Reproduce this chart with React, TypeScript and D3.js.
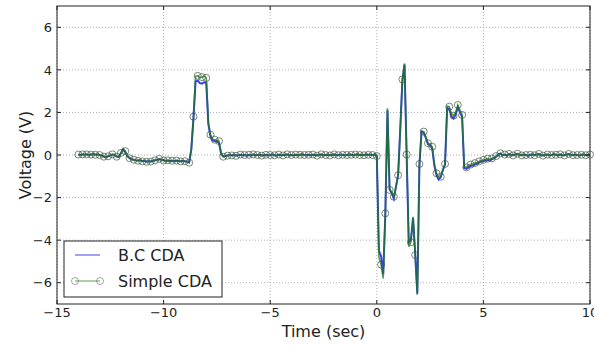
import { useRef, useEffect } from "react";
import * as d3 from "d3";

// sampled every 0.1 sec starting at -14 sec
const startTime = -14;
const timeStep = 0.1;

const simpleCda = [
    0.02, 0.0, 0.03, 0.01, 0.03, 0.0, 0.02, 0.04, 0.01, 0.03,
    0.0, -0.04, -0.08, -0.1, -0.06, -0.02, 0.03, 0.0, -0.08, -0.1,
    0.1, 0.3, 0.18, -0.05, -0.15, -0.2, -0.22, -0.25, -0.27, -0.24,
    -0.3, -0.28, -0.32, -0.29, -0.31, -0.27, -0.25, -0.22, -0.18, -0.22,
    -0.26, -0.28, -0.25, -0.3, -0.27, -0.29, -0.26, -0.28, -0.3, -0.27,
    -0.29, -0.31, -0.36, 0.3, 1.8, 3.7, 3.72, 3.65, 3.66, 3.7,
    3.62, 1.5, 0.95, 0.75, 0.72, 0.7, 0.65, 0.1, -0.08, -0.05,
    -0.03, 0.0, -0.02, 0.01, -0.04, -0.01, 0.02, -0.02, 0.0, -0.03,
    0.01, -0.01, 0.03, -0.02, 0.0, 0.02, -0.03, -0.01, 0.01, -0.02,
    0.0, 0.03, -0.01, -0.03, 0.02, 0.0, -0.02, 0.01, 0.03, -0.01,
    0.0, -0.02, 0.02, -0.01, 0.01, 0.04, 0.0, -0.02, 0.01, -0.01,
    0.02, 0.0, -0.03, 0.01, 0.03, -0.01, 0.0, 0.02, -0.02, 0.01,
    0.03, 0.0, -0.01, 0.02, 0.01, -0.02, 0.0, 0.03, 0.01, -0.01,
    0.02, 0.04, 0.0, 0.02, -0.01, 0.03, 0.01, 0.02, 0.0, 0.03,
    -0.05, -4.8, -5.15, -5.8, -2.74, 2.2, -1.64, -1.75, -1.96, -1.45,
    -0.95, 1.2, 3.55, 4.3, 0.02, -4.3, -4.1, -2.9, -4.7, -6.57,
    -0.42, 1.13, 1.1, 0.86, 0.55, 0.52, 0.39, -0.42, -0.86, -1.05,
    -1.02, -0.7, -0.42, 2.3, 2.27, 1.95, 1.85, 2.0, 2.35, 2.1,
    1.88, -0.55, -0.58, -0.5, -0.45, -0.42, -0.38, -0.35, -0.3, -0.26,
    -0.23, -0.2, -0.17, -0.2, -0.16, -0.12, -0.05, 0.05, 0.08, 0.0,
    0.02, -0.03, 0.05, 0.0, -0.02, 0.03, 0.06, 0.01, -0.02, 0.02,
    0.0, -0.04, 0.01, 0.03, -0.01, 0.02, 0.05, 0.0, -0.03, 0.01,
    0.02, -0.02, 0.0, 0.04, 0.01, -0.01, 0.03, 0.0, -0.02, 0.02,
    0.05, 0.01, -0.01, 0.02, 0.0, -0.03, 0.01, 0.03, -0.01, 0.0, 0.02,
];

const bcCda = [
    0.01, 0.01, 0.02, 0.02, 0.02, 0.01, 0.02, 0.03, 0.02, 0.02,
    0.0, -0.03, -0.07, -0.09, -0.06, -0.02, 0.02, 0.0, -0.07, -0.09,
    0.08, 0.26, 0.16, -0.05, -0.14, -0.2, -0.23, -0.25, -0.26, -0.25,
    -0.28, -0.28, -0.3, -0.29, -0.3, -0.27, -0.25, -0.22, -0.19, -0.22,
    -0.25, -0.27, -0.26, -0.28, -0.27, -0.28, -0.27, -0.28, -0.29, -0.28,
    -0.29, -0.31, -0.35, 0.25, 1.7, 3.45, 3.5, 3.38, 3.35, 3.42,
    3.4, 1.45, 0.85, 0.68, 0.66, 0.65, 0.55, 0.05, -0.07, -0.05,
    -0.02, -0.01, -0.01, 0.0, -0.02, -0.01, 0.01, -0.01, 0.0, -0.02,
    0.0, -0.01, 0.02, -0.01, 0.0, 0.01, -0.02, -0.01, 0.0, -0.01,
    0.0, 0.02, -0.01, -0.02, 0.01, 0.0, -0.01, 0.01, 0.02, -0.01,
    0.0, -0.01, 0.01, -0.01, 0.01, 0.02, 0.0, -0.01, 0.01, -0.01,
    0.01, 0.0, -0.02, 0.01, 0.02, -0.01, 0.0, 0.01, -0.01, 0.01,
    0.02, 0.0, -0.01, 0.01, 0.01, -0.01, 0.0, 0.02, 0.01, -0.01,
    0.01, 0.02, 0.0, 0.01, -0.01, 0.02, 0.01, 0.01, 0.0, 0.02,
    -0.03, -4.5, -4.75, -5.6, -2.8, 2.1, -1.6, -1.8, -2.05, -1.5,
    -0.95, 1.2, 3.5, 4.25, 0.0, -4.1, -4.0, -2.95, -4.6, -6.5,
    -0.45, 1.1, 1.05, 0.8, 0.5, 0.45, 0.3, -0.5, -0.95, -1.15,
    -1.05, -0.7, -0.45, 2.2, 2.15, 1.8, 1.72, 1.9, 2.25, 2.0,
    1.8, -0.6, -0.65, -0.58, -0.52, -0.5, -0.45, -0.4, -0.36, -0.3,
    -0.28, -0.26, -0.25, -0.25, -0.2, -0.15, -0.08, 0.02, 0.06, 0.0,
    0.01, -0.02, 0.04, 0.0, -0.01, 0.02, 0.05, 0.01, -0.01, 0.02,
    0.0, -0.03, 0.01, 0.02, -0.01, 0.02, 0.04, 0.0, -0.02, 0.01,
    0.02, -0.01, 0.0, 0.03, 0.01, -0.01, 0.02, 0.0, -0.01, 0.02,
    0.04, 0.01, -0.01, 0.02, 0.0, -0.02, 0.01, 0.02, -0.01, 0.0, 0.01,
];

const xTicks = [-15, -10, -5, 0, 5, 10];
const yTicks = [-6, -4, -2, 0, 2, 4, 6];
const legendLabels = ["B.C CDA", "Simple CDA"];

const blueColor = "#1f1fe6";
const greenColor = "#157a15";
const markerColor = "#3f5a3f";
const font = "DejaVu Sans, sans-serif";

type Point = { t: number; v: number };

export default function App() {
    const ref = useRef<SVGSVGElement>(null);

    useEffect(() => {
        if (!ref.current) return;
        const svg = d3.select(ref.current);
        svg.selectAll("*").remove();

        const width = 594;
        const height = 345;
        const margin = { top: 6, right: 4, bottom: 41, left: 57 };
        const innerWidth = width - margin.left - margin.right;
        const innerHeight = height - margin.top - margin.bottom;

        const xScale = d3.scaleLinear().domain([-15, 10]).range([0, innerWidth]);
        const yScale = d3.scaleLinear().domain([-7, 7]).range([innerHeight, 0]);

        const toPoints = (values: number[]): Point[] =>
            values.map((v, i) => ({ t: startTime + i * timeStep, v }));
        const simplePts = toPoints(simpleCda);
        const bcPts = toPoints(bcCda);

        const line = d3.line<Point>()
            .x(d => xScale(d.t))
            .y(d => yScale(d.v));

        svg.append("rect")
            .attr("width", width).attr("height", height).attr("fill", "#fff");

        const g = svg.append("g")
            .attr("transform", `translate(${margin.left}, ${margin.top})`);

        // dotted grid
        g.selectAll(".vgrid").data(xTicks).enter().append("line")
            .attr("x1", d => xScale(d)).attr("x2", d => xScale(d))
            .attr("y1", 0).attr("y2", innerHeight)
            .attr("stroke", "#9a9a9a").attr("stroke-width", 0.8)
            .attr("stroke-dasharray", "1,2");
        g.selectAll(".hgrid").data(yTicks).enter().append("line")
            .attr("x1", 0).attr("x2", innerWidth)
            .attr("y1", d => yScale(d)).attr("y2", d => yScale(d))
            .attr("stroke", "#9a9a9a").attr("stroke-width", 0.8)
            .attr("stroke-dasharray", "1,2");

        g.append("path")
            .datum(bcPts)
            .attr("d", line)
            .attr("fill", "none")
            .attr("stroke", blueColor)
            .attr("stroke-opacity", 0.85)
            .attr("stroke-width", 2);

        g.append("path")
            .datum(simplePts)
            .attr("d", line)
            .attr("fill", "none")
            .attr("stroke", greenColor)
            .attr("stroke-opacity", 0.75)
            .attr("stroke-width", 1.6);

        // markers on every other sample
        g.selectAll(".marker")
            .data(simplePts.filter((_, i) => i % 2 === 0))
            .enter().append("circle")
            .attr("cx", d => xScale(d.t))
            .attr("cy", d => yScale(d.v))
            .attr("r", 3.5)
            .attr("fill", "none")
            .attr("stroke", markerColor)
            .attr("stroke-opacity", 0.7)
            .attr("stroke-width", 1);

        // frame
        g.append("rect")
            .attr("width", innerWidth).attr("height", innerHeight)
            .attr("fill", "none").attr("stroke", "#222").attr("stroke-width", 1);

        // inward ticks on all sides
        xTicks.forEach(t => {
            const x = xScale(t);
            g.append("line").attr("x1", x).attr("x2", x).attr("y1", innerHeight).attr("y2", innerHeight - 4).attr("stroke", "#222");
            g.append("line").attr("x1", x).attr("x2", x).attr("y1", 0).attr("y2", 4).attr("stroke", "#222");
            g.append("text")
                .attr("x", x).attr("y", innerHeight + 13)
                .attr("text-anchor", "middle")
                .style("font-family", font).style("font-size", "13px").style("fill", "#222")
                .text(t < 0 ? "\u2212" + Math.abs(t) : String(t));
        });
        yTicks.forEach(t => {
            const y = yScale(t);
            g.append("line").attr("x1", 0).attr("x2", 4).attr("y1", y).attr("y2", y).attr("stroke", "#222");
            g.append("line").attr("x1", innerWidth).attr("x2", innerWidth - 4).attr("y1", y).attr("y2", y).attr("stroke", "#222");
            g.append("text")
                .attr("x", -5).attr("y", y).attr("dy", "0.36em")
                .attr("text-anchor", "end")
                .style("font-family", font).style("font-size", "13px").style("fill", "#222")
                .text(t < 0 ? "\u2212" + Math.abs(t) : String(t));
        });

        // axis titles
        svg.append("text")
            .attr("x", margin.left + innerWidth / 2).attr("y", 337)
            .attr("text-anchor", "middle")
            .style("font-family", font).style("font-size", "16px").style("fill", "#222")
            .text("Time (sec)");
        svg.append("text")
            .attr("transform", `translate(25, ${margin.top + yScale(0)}) rotate(-90)`)
            .attr("dy", "0.36em")
            .attr("text-anchor", "middle")
            .style("font-family", font).style("font-size", "16px").style("fill", "#222")
            .text("Voltage (V)");

        // legend
        const lg = svg.append("g").attr("transform", "translate(64, 241)");
        lg.append("rect")
            .attr("width", 158).attr("height", 56)
            .attr("fill", "#fff").attr("stroke", "#222").attr("stroke-width", 1);
        lg.append("line")
            .attr("x1", 11).attr("x2", 36).attr("y1", 14).attr("y2", 14)
            .attr("stroke", blueColor).attr("stroke-opacity", 0.55).attr("stroke-width", 1.5);
        lg.append("line")
            .attr("x1", 11).attr("x2", 36).attr("y1", 40).attr("y2", 40)
            .attr("stroke", greenColor).attr("stroke-opacity", 0.55).attr("stroke-width", 1.3);
        [11, 36].forEach(x => {
            lg.append("circle")
                .attr("cx", x).attr("cy", 40).attr("r", 3.5)
                .attr("fill", "none").attr("stroke", markerColor)
                .attr("stroke-opacity", 0.5).attr("stroke-width", 1);
        });
        legendLabels.forEach((label, i) => {
            lg.append("text")
                .attr("x", 54).attr("y", 20 + i * 26)
                .style("font-family", font).style("font-size", "16px").style("fill", "#222")
                .text(label);
        });
    }, []);

    return (
        <svg ref={ref} width={594} height={345}
            style={{ position: "absolute", left: 0, top: 0, display: "block" }} />
    );
}
